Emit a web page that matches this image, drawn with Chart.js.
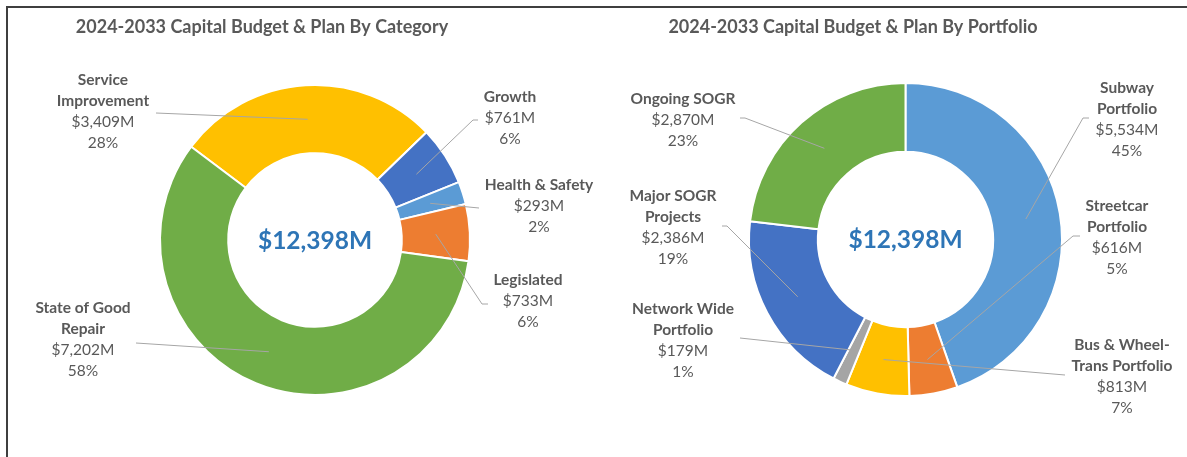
<!DOCTYPE html>
<html>
<head>
<meta charset="utf-8">
<script src="https://cdn.jsdelivr.net/npm/chart.js@4.4.1/dist/chart.umd.min.js"></script>
<style>
  html, body { margin: 0; padding: 0; background: #fff; }
  #page { position: relative; width: 1187px; height: 457px; overflow: hidden; }
  #frame { position: absolute; left: 6px; top: 6px; right: -10px; bottom: -10px;
           border-left: 2px solid #3f3f3f; border-top: 2px solid #3f3f3f; }
  .box { position: absolute; top: 0; height: 457px; }
  #leftBox { left: 0; width: 595px; }
  #rightBox { left: 595px; width: 592px; }
</style>
</head>
<body>
<div id="page">
  <div id="frame"></div>
  <div class="box" id="leftBox"><canvas id="categoryChart"></canvas></div>
  <div class="box" id="rightBox"><canvas id="portfolioChart"></canvas></div>
</div>
<script>
// --- data ---
const catNames = [["Service", "Improvement"], ["Growth"], ["Health & Safety"], ["Legislated"], ["State of Good", "Repair"]];
const catValues = [3409, 761, 293, 733, 7202];
const catPercents = [28, 6, 2, 6, 58];
const catColors = ["#FFC000", "#4472C4", "#5B9BD5", "#ED7D31", "#70AD47"];

const portNames = [["Subway", "Portfolio"], ["Streetcar", "Portfolio"], ["Bus & Wheel-", "Trans Portfolio"], ["Network Wide", "Portfolio"], ["Major SOGR", "Projects"], ["Ongoing SOGR"]];
const portValues = [5534, 616, 813, 179, 2386, 2870];
const portPercents = [45, 5, 7, 1, 19, 23];
const portColors = ["#5B9BD5", "#ED7D31", "#FFC000", "#A5A5A5", "#4472C4", "#70AD47"];

// label placement: text centre (x, first line y), leader attach point, elbow length
const catCallouts = [
  { x: 103, y: 80, ax: 156, ay: 113, elbow: 0 },
  { x: 510, y: 97, ax: 478, ay: 120, elbow: -5 },
  { x: 539, y: 185, ax: 479, ay: 208, elbow: 0 },
  { x: 528, y: 280, ax: 488, ay: 304, elbow: -6 },
  { x: 83, y: 308, ax: 136, ay: 343, elbow: 0 }
];
const portCallouts = [
  { x: 532, y: 88, ax: 494, ay: 118, elbow: -6 },
  { x: 522, y: 206, ax: 485, ay: 236, elbow: -7 },
  { x: 527, y: 345, ax: 470, ay: 375, elbow: 0 },
  { x: 88, y: 309, ax: 145, ay: 338, elbow: 0 },
  { x: 78, y: 196, ax: 127, ay: 226, elbow: 5 },
  { x: 88, y: 99, ax: 145, ay: 118, elbow: 5 }
];

const TEXT = "#595959";
const LINE_H = 21;

function money(v) {
  return "$" + v.toLocaleString("en-US") + "M";
}

const calloutPlugin = {
  id: "callouts",
  afterDatasetsDraw(chart, args, opts) {
    const ctx = chart.ctx;
    const meta = chart.getDatasetMeta(0);
    const values = chart.data.datasets[0].data;
    const total = values.reduce((a, b) => a + b, 0);
    ctx.save();

    // title
    ctx.fillStyle = TEXT;
    ctx.font = "bold 18px Lato";
    ctx.textAlign = "center";
    ctx.textBaseline = "middle";
    ctx.fillText(opts.title, opts.titleX, 27);

    // centre total
    const c = meta.data[0];
    ctx.fillStyle = "#2E75B6";
    ctx.font = "bold 24.5px Lato";
    ctx.fillText(money(total), c.x, c.y + 1);

    // leader lines + labels
    meta.data.forEach((arc, i) => {
      const lay = opts.layout[i];
      const p = arc.tooltipPosition();
      ctx.strokeStyle = "#A6A6A6";
      ctx.lineWidth = 1;
      ctx.beginPath();
      ctx.moveTo(lay.ax, lay.ay);
      if (lay.elbow) ctx.lineTo(lay.ax + lay.elbow, lay.ay);
      ctx.lineTo(p.x, p.y);
      ctx.stroke();

      let y = lay.y;
      ctx.fillStyle = TEXT;
      ctx.font = "bold 15.5px Lato";
      opts.names[i].forEach(line => {
        ctx.fillText(line, lay.x, y);
        y += LINE_H;
      });
      ctx.font = "15.5px Lato";
      ctx.fillText(money(values[i]), lay.x, y);
      y += LINE_H;
      ctx.fillText(opts.percents[i] + "%", lay.x, y);
    });
    ctx.restore();
  }
};

function makeDoughnut(id, names, values, colors, rotation, padding, opts) {
  new Chart(document.getElementById(id), {
    type: "doughnut",
    data: {
      labels: names.map(n => n.join(" ")),
      datasets: [{
        data: values,
        backgroundColor: colors,
        borderColor: "#ffffff",
        borderWidth: 2
      }]
    },
    options: {
      responsive: true,
      maintainAspectRatio: false,
      animation: false,
      cutout: "56%",
      rotation: rotation,
      layout: { padding: padding },
      plugins: {
        legend: { display: false },
        tooltip: { enabled: false },
        callouts: opts
      }
    },
    plugins: [calloutPlugin]
  });
}

makeDoughnut("categoryChart", catNames, catValues, catColors, -53,
  { left: 159, right: 124, top: 84, bottom: 61 },
  { title: "2024-2033 Capital Budget & Plan By Category", titleX: 262,
    names: catNames, percents: catPercents, layout: catCallouts });

makeDoughnut("portfolioChart", portNames, portValues, portColors, 0,
  { left: 153, right: 124, top: 82, bottom: 60 },
  { title: "2024-2033 Capital Budget & Plan By Portfolio", titleX: 258,
    names: portNames, percents: portPercents, layout: portCallouts });
</script>
</body>
</html>
